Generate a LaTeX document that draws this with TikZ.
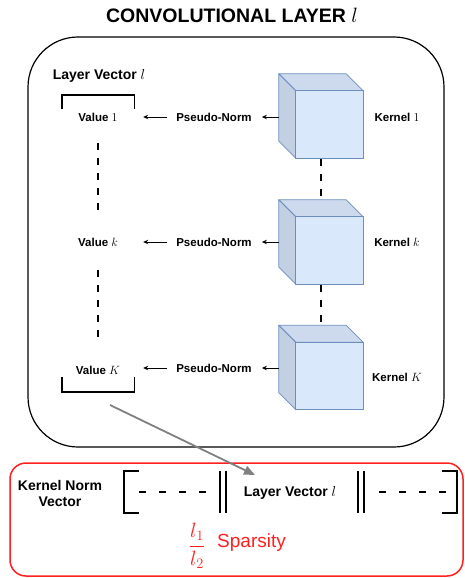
\documentclass[tikz,border=0pt]{standalone}
\usepackage{fontspec}
\setmainfont{Liberation Sans}
\usetikzlibrary{calc,arrows.meta}
\definecolor{cubefront}{HTML}{DAE8FC}
\definecolor{cubetop}{HTML}{CDDAEE}
\definecolor{cubeside}{HTML}{C3CFE3}
\definecolor{cubeedge}{HTML}{6C8EBF}
\definecolor{redline}{HTML}{FF2020}
\tikzset{
  lbl/.style={font=\fontsize{11.5}{13}\selectfont\bfseries, inner sep=0pt},
  biglbl/.style={font=\fontsize{14}{17}\selectfont\bfseries, inner sep=0pt},
  valnode/.style={lbl, minimum width=72pt},
  cubebox/.style={minimum width=84pt, minimum height=84pt, inner sep=0pt},
  cubeface/.style={draw=cubeedge, line width=0.8pt, line join=round},
  arr/.style={-{Stealth[length=5pt,width=4.5pt]}, line width=0.8pt},
  dots/.style={line width=2.4pt, dash pattern=on 7pt off 8pt},
  brk/.style={line width=1.4pt},
  bigbrk/.style={line width=2.4pt},
  bigdash/.style={line width=2.6pt, dash pattern=on 7pt off 13pt},
}
\begin{document}
\begin{tikzpicture}[x=1pt,y=-1pt]
\useasboundingbox (0,0) rectangle (464,578);

% title
\node[font=\fontsize{19.5}{22}\selectfont\bfseries, inner sep=0pt] (title) at (232,15) {CONVOLUTIONAL LAYER $l$};

% outer layer box
\node[draw, line width=1.2pt, rounded corners=50pt, minimum width=416pt, minimum height=410pt] (outer) at (236,242) {};

\node[biglbl] (lvtop) at (99,76) {Layer Vector $l$};

% cubes
\node[cubebox] (c1) at (321,116) {};
\node[cubebox] (ck) at (321,242) {};
\node[cubebox] (cK) at (321,367.5) {};
\foreach \c in {c1,ck,cK}{
  \draw[cubeface, fill=cubetop] (\c.north west) -- ($(\c.north east)+(-17,0)$) -- ($(\c.north east)+(0,17)$) -- ($(\c.north west)+(17,17)$) -- cycle;
  \draw[cubeface, fill=cubeside] (\c.north west) -- ($(\c.north west)+(17,17)$) -- ($(\c.south west)+(17,0)$) -- ($(\c.south west)+(0,-17)$) -- cycle;
  \draw[cubeface, fill=cubefront] ($(\c.north west)+(17,17)$) rectangle (\c.south east);
}

% labels
\node[valnode] (v1) at (98,117) {Value $1$};
\node[valnode] (vk) at (98,242) {Value $k$};
\node[valnode] (vK) at (98,370) {Value $K$};
\node[lbl] (p1) at (214,117) {Pseudo-Norm};
\node[lbl] (pk) at (214,242) {Pseudo-Norm};
\node[lbl] (pK) at (214,368) {Pseudo-Norm};
\node[lbl] (k1) at (397,117) {Kernel $1$};
\node[lbl] (kk) at (397,242) {Kernel $k$};
\node[lbl] (kK) at (397,377) {Kernel $K$};

% arrows
\foreach \i in {1,k,K}{
  \draw[arr, shorten >=10pt] (c\i.west |- p\i) -- (p\i.east);
  \draw[arr, shorten <=9pt, shorten >=9pt] (p\i.west) -- (v\i.east |- p\i);
}

% brackets around the layer vector
\draw[brk] ($(v1.west)+(0,-8)$) -- ($(v1.west)+(0,-22)$) -- ($(v1.east)+(0,-22)$) -- ($(v1.east)+(0,-8)$);
\draw[brk] ($(vK.west)+(0,7)$) -- ($(vK.west)+(0,22)$) -- ($(vK.east)+(0,22)$) -- ($(vK.east)+(0,7)$);

% dotted continuation lines
\draw[dots] ($(v1)+(0,26)$) -- ($(vk)+(0,-32)$);
\draw[dots] ($(vk)+(0,28)$) -- ($(vK)+(0,-32)$);
\draw[dots] ($(c1.south)+(0,1)$) -- (ck.north);
\draw[dots] ($(ck.south)+(0,1)$) -- (cK.north);

% bottom box
\node[draw=redline, line width=1.5pt, rounded corners=16pt, minimum width=453pt, minimum height=113pt] (nbox) at (236.5,519.5) {};
\node[biglbl, align=center] (kn) at (60,493.5) {Kernel Norm\\[-0.5pt]Vector};
\node[biglbl] (lv) at (290,493) {Layer Vector $l$};

\coordinate (lbA) at (139,471);
\coordinate (lbB) at (124,471);
\coordinate (lbC) at (124,513);
\coordinate (lbD) at (139,513);
\draw[bigbrk] (lbA) -- (lbB) -- (lbC) -- (lbD);
\coordinate (rbA) at (442,471);
\coordinate (rbB) at (457,471);
\coordinate (rbC) at (457,513);
\coordinate (rbD) at (442,513);
\draw[bigbrk] (rbA) -- (rbB) -- (rbC) -- (rbD);
\draw[bigdash] (139,492) -- (207,492);
\draw[bigdash] (379,492) -- (447,492);
\draw[bigbrk] (220,471) -- (220,513);
\draw[bigbrk] (226,471) -- (226,513);
\draw[bigbrk] (358,471) -- (358,513);
\draw[bigbrk] (364,471) -- (364,513);

\node[text=redline, inner sep=0pt, font=\fontsize{21}{24}\selectfont] (fr) at (197,546) {$\displaystyle\frac{l_1}{l_2}$};
\node[text=redline, inner sep=0pt, font=\fontsize{19}{22}\selectfont, anchor=west] (sp) at (217,543) {Sparsity};

% grey arrow
\coordinate (gs) at ($(vK)+(12,35)$);
\coordinate (ge) at (255,475);
\draw[draw=gray, line width=1.8pt, -{Stealth[length=11pt,width=9pt,inset=0pt]}] (gs) -- (ge);
\end{tikzpicture}
\end{document}
